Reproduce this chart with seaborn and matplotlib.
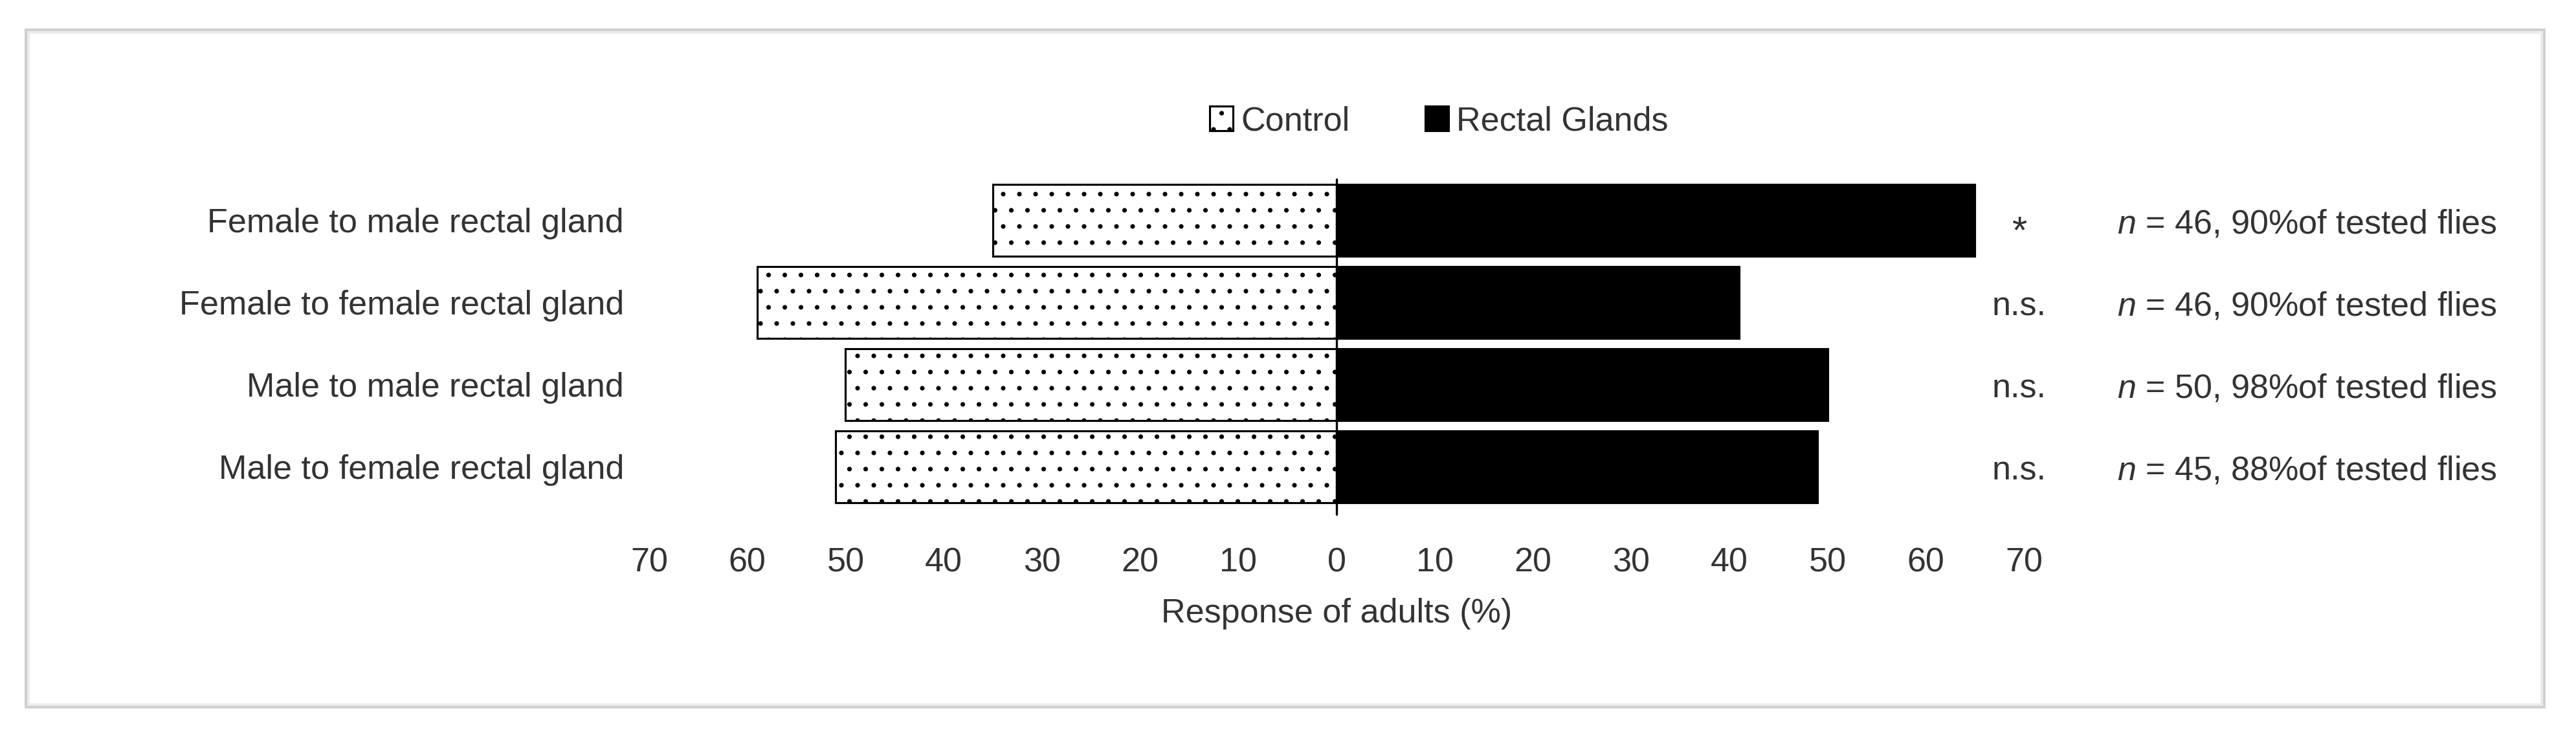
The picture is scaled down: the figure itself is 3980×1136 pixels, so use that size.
import numpy as np
import pandas as pd
import matplotlib
matplotlib.use("Agg")
import matplotlib.pyplot as plt
import seaborn as sns
from matplotlib.patches import Rectangle

# -------------------
# Data
# -------------------
categories = ["Female to male rectal gland", "Female to female rectal gland",
              "Male to male rectal gland", "Male to female rectal gland"]
control = [35, 59, 50, 51]
rectal_glands = [65, 41, 50, 49]
groups = ["Control", "Rectal Glands"]
signif = ["*", "n.s.", "n.s.", "n.s."]
n_flies = [46, 46, 50, 45]
pct_tested = [90, 90, 98, 88]
xticks = np.arange(-70, 71, 10)

# control drawn to the left (negative side)
df = pd.DataFrame({
    "Category": categories * 2,
    "Response": [-v for v in control] + rectal_glands,
    "Group": [groups[0]] * len(categories) + [groups[1]] * len(categories),
})

# -------------------
# Style
# -------------------
sns.set_theme(style="white")
plt.rcParams["font.family"] = ["Liberation Sans", "DejaVu Sans"]
plt.rcParams["mathtext.fontset"] = "custom"
plt.rcParams["mathtext.rm"] = "Liberation Sans"
plt.rcParams["mathtext.it"] = "Liberation Sans:italic"
plt.rcParams["hatch.linewidth"] = 1.0
txt_color = "#333333"
fs = 25

dpi = 150
fig = plt.figure(figsize=(3980 / dpi, 1136 / dpi), dpi=dpi)
ax = fig.add_axes([0.252, 0.309, 0.5337, 0.4472])

sns.barplot(data=df, y="Category", x="Response", hue="Group", hue_order=groups,
            order=categories, dodge=False, errorbar=None, saturation=1,
            palette={"Control": "white", "Rectal Glands": "black"},
            width=0.88, edgecolor="black", linewidth=1.5, legend=False, ax=ax)

# dotted fill for the control bars
for bar in ax.containers[0]:
    bar.set_hatch(".")

# zero line
ax.axvline(0, ymin=-0.02, ymax=1, color="black", lw=1.6, clip_on=False, zorder=5)

ax.set_xlim(-70, 70)
ax.set_xticks(xticks)
ax.set_xticklabels([str(abs(t)) for t in xticks])
ax.tick_params(axis="x", length=0, pad=29, labelsize=fs, labelcolor=txt_color)
ax.tick_params(axis="y", length=0, pad=18.7, labelsize=fs, labelcolor=txt_color)
ax.set_ylabel("")
ax.set_xlabel("Response of adults (%)", fontsize=fs, color=txt_color, labelpad=14)
sns.despine(ax=ax, left=True, bottom=True)

# significance and sample size notes
for i in range(len(categories)):
    if signif[i] == "*":
        ax.text(69.5, i + 0.15, signif[i], ha="center", va="center",
                fontsize=fs * 1.15, color=txt_color, clip_on=False)
    else:
        ax.text(69.5, i + 0.05, signif[i], ha="center", va="center",
                fontsize=fs, color=txt_color, clip_on=False)
    ax.text(79.5, i + 0.05,
            rf"$\mathit{{n}}$ = {n_flies[i]}, {pct_tested[i]}%of tested flies",
            ha="left", va="center", fontsize=fs, color=txt_color, clip_on=False)

# legend on top
handles = [ax.containers[0][0], ax.containers[1][0]]
leg = fig.legend(handles, groups, loc="center left",
                 bbox_to_anchor=(1869 / 3980, 1 - 188 / 1136), ncol=2,
                 frameon=False, fontsize=fs, handlelength=0.69, handleheight=0.75,
                 handletextpad=0.23, columnspacing=2.25, borderpad=0, borderaxespad=0)
for t in leg.get_texts():
    t.set_color(txt_color)

# light grey chart border
W, H = 3980, 1136
fig.patches.append(Rectangle((40 / W, 1 - 1093 / H), (3931 - 40) / W, (1093 - 46) / H,
                             transform=fig.transFigure, fill=False,
                             edgecolor="#d0d0d0", lw=4 * 72 / dpi))
fig.patches.append(Rectangle((44 / W, 1 - 1089 / H), (3927 - 44) / W, (1089 - 50) / H,
                             transform=fig.transFigure, fill=False,
                             edgecolor="#ebebeb", lw=4 * 72 / dpi))

fig.savefig("out.png", dpi=dpi)
